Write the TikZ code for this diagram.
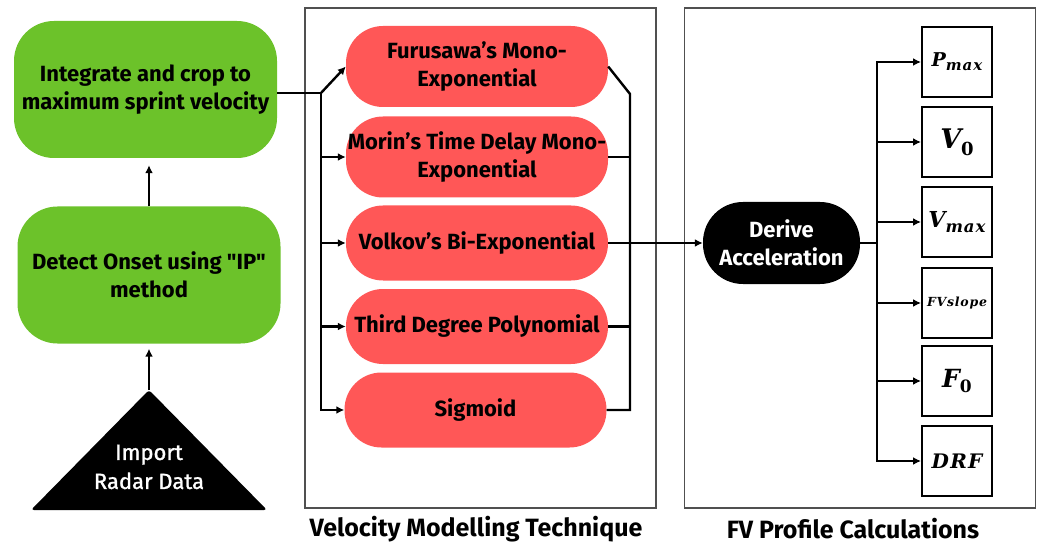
\documentclass[tikz,border=0pt]{standalone}
\usepackage{fontspec}
\setmainfont{Fira Sans}[Ligatures=TeXOff]
\newfontfamily\medf{Fira Sans}[Ligatures=TeXOff,FakeBold=1.2]
\newfontfamily\mfont{DejaVu Serif}[Ligatures=TeXOff,LetterSpace=6]
\usetikzlibrary{arrows.meta}
\definecolor{gr}{RGB}{108,194,42}
\definecolor{rd}{RGB}{255,87,87}
\definecolor{fr}{RGB}{80,80,80}
\begin{document}
\begin{tikzpicture}[x=1pt,y=-1pt,
  ln/.style={line width=2.4pt},
  arr/.style={ln,-{Latex[length=8pt,width=8pt]}},
  txt/.style={font=\fontsize{22}{28}\selectfont\bfseries, align=center, inner sep=0pt},
  grbox/.style={txt, fill=gr, rounded corners=40pt, minimum width=263pt, minimum height=137pt},
  rdbox/.style={txt, fill=rd, rounded corners=37pt, minimum width=262pt},
  dabox/.style={txt, fill=black, text=white, rounded corners=40pt, minimum width=157pt, minimum height=82pt},
  fvbox/.style={draw, line width=2pt, minimum width=70pt, minimum height=70pt, inner sep=0pt},
  fs/.style={font=\mfont\bfseries\itshape\fontsize{#1}{#1}\selectfont},
  frame/.style={draw=fr, line width=1.1pt, minimum width=351pt, minimum height=500pt, inner sep=0pt},
  lbl/.style={font=\fontsize{25}{28}\selectfont\bfseries, inner sep=0pt}
]
\useasboundingbox (0,0) rectangle (1038,545);
% frames
\node[frame] (F1) at (480.5,258) {};
\node[frame] (F2) at (860,258) {};
\node[lbl] (L1) at (476,529) {Velocity Modelling Technique};
\node[lbl] (L2) at (853,529) {FV Profile Calculations};
% left column
\node[grbox] (g1) at (145.5,89.5) {Integrate and crop to\\maximum sprint velocity};
\node[grbox] (g2) at (149,275) {Detect Onset using "IP"\\method};
\fill[rounded corners=3pt] (149,390) -- (267,510) -- (31,510) -- cycle;
\coordinate (apex) at (149,390);
\node[txt, text=white, font=\fontsize{22}{29}\selectfont\medf] (imp) at (149,467) {Import\\Radar Data};
\draw[arr, shorten >=5pt] (apex) -- (g2.south);
\draw[arr, shorten >=7pt] (g2.north) -- (g2.north |- g1.south);
% red boxes
\node[rdbox, minimum height=81pt] (r1) at (477,66.5) {Furusawa’s Mono-\\Exponential};
\node[rdbox, minimum height=81pt] (r2) at (477,157) {Morin’s Time Delay Mono-\\Exponential};
\node[rdbox, minimum height=75pt] (r3) at (477,243) {Volkov’s Bi-Exponential};
\node[rdbox, minimum height=75pt] (r4) at (477,326.5) {Third Degree Polynomial};
\node[rdbox, minimum height=75pt] (r5) at (475.5,410) {Sigmoid};
% left bus
\coordinate (bL) at (321,93);
\draw[ln] (g1.east |- bL) -- (bL);
\draw[arr] (bL) -- (r1.west);
\draw[arr] (bL) -- (bL |- r5.west) -- (r5.west);
\draw[arr] (bL |- r2.west) -- (r2.west);
\draw[arr] (bL |- r3.west) -- (r3.west);
\draw[arr] (bL |- r4.west) -- (r4.west);
% right bus
\coordinate (bR) at (630,94);
\draw[ln] (r1.east) -- (bR) -- (bR |- r5.east) -- (r5.east);
\draw[ln] (r2.east) -- (bR |- r2.east);
\draw[ln] (r4.east) -- (bR |- r4.east);
% derive
\node[dabox] (da) at (781.5,243) {Derive\\Acceleration};
\draw[arr] (r3.east) -- (da.west);
% FV boxes
\node[fvbox, fs=19] (p1) at (957,62) {P\raisebox{-4pt}{\fontsize{15}{15}\selectfont max}};
\node[fvbox, fs=27] (p2) at (957,142) {V\raisebox{-7pt}{\fontsize{18}{18}\selectfont\upshape 0}};
\node[fvbox, fs=22] (p3) at (957,222) {V\raisebox{-5pt}{\fontsize{16.5}{16.5}\selectfont max}};
\node[fvbox, fs=12.5] (p4) at (957,303) {FVslope};
\node[fvbox, fs=25] (p5) at (957,381) {F\raisebox{-5pt}{\fontsize{17}{17}\selectfont\upshape 0}};
\node[fvbox, fs=20] (p6) at (957,461) {DRF};
\coordinate (bF) at (877,62);
\draw[ln] (da.east) -- (da.east -| bF);
\draw[arr] (bF |- p6.west) -- (bF |- p1.west) -- (p1.west);
\draw[arr] (bF |- p5.west) -- (bF |- p6.west) -- (p6.west);
\draw[arr] (bF |- p2.west) -- (p2.west);
\draw[arr] (bF |- p3.west) -- (p3.west);
\draw[arr] (bF |- p4.west) -- (p4.west);
\draw[arr] (bF |- p5.west) -- (bF |- p5.west) -- (p5.west);
\end{tikzpicture}
\end{document}
